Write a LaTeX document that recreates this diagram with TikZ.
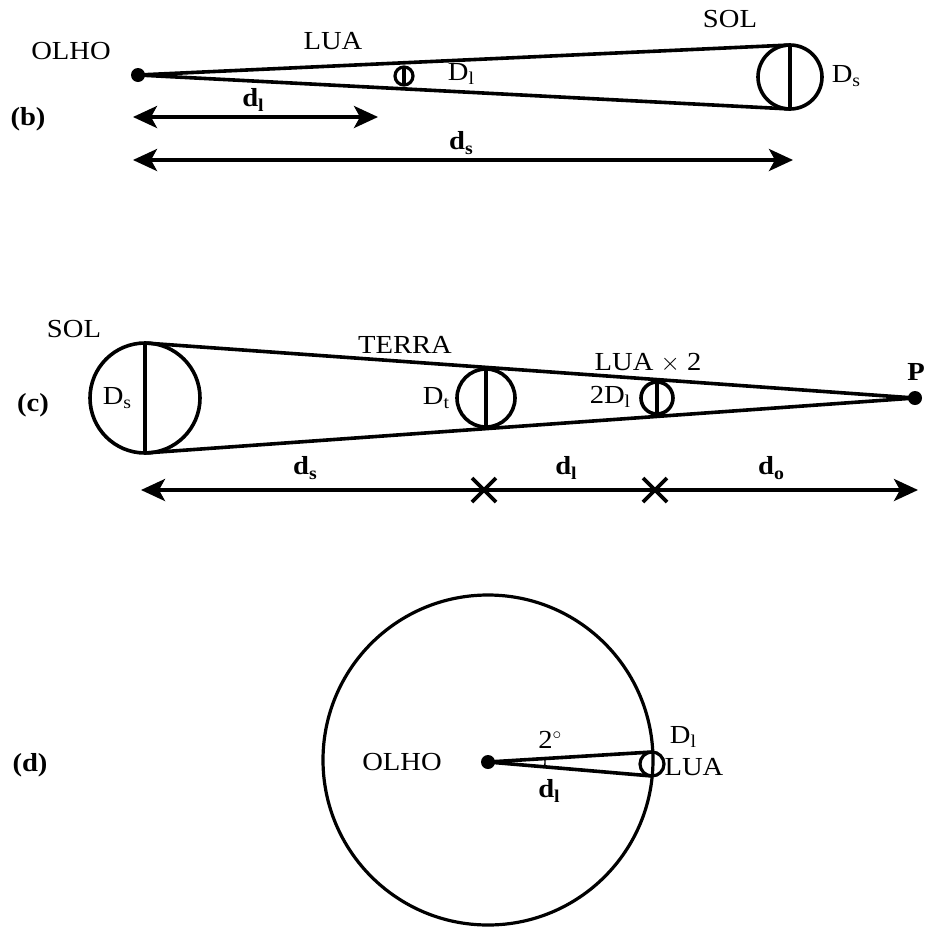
\documentclass[tikz,border=0pt]{standalone}
\usepackage{fontspec}
\setmainfont{Liberation Serif}[FakeStretch=1.1]
\usetikzlibrary{arrows.meta,calc}
\newcommand{\mysub}[1]{\raisebox{-0.35ex}{\fontsize{18}{18}\selectfont #1}}
\begin{document}
\begin{tikzpicture}[x=1pt,y=-1pt,
  line width=3.6pt,
  lbl/.style={inner sep=0pt,font=\fontsize{26}{30}\selectfont},
  blbl/.style={inner sep=0pt,font=\fontsize{26}{30}\selectfont\bfseries},
  body/.style={circle,draw,line width=3.6pt,inner sep=0pt,outer sep=0pt},
  eye/.style={circle,fill,inner sep=0pt,minimum size=14pt},
  dim/.style={{Stealth[length=24pt,width=22pt,inset=6pt]}-{Stealth[length=24pt,width=22pt,inset=6pt]}},
  xmark/.style={line width=3.6pt}
]
\useasboundingbox (0,0) rectangle (926,927);

% ---------------- (b)
\node[lbl] (olhob) at (71,51) {OLHO};
\node[blbl] (lb) at (28,119) {(b)};
\node[lbl] (luab) at (333,41) {LUA};
\node[lbl] (solb) at (730,19) {SOL};
\node[eye] (eyeb) at (138,75) {};
\node[body,minimum size=64pt] (sunb) at (790,77) {};
\node[body,minimum size=18pt,line width=3.2pt] (moonb) at (404,76) {};
\draw (sunb.north) -- (sunb.south);
\draw[line width=3.2pt] (moonb.north) -- (moonb.south);
\draw (eyeb.center) -- (sunb.north);
\draw (eyeb.center) -- (sunb.south);
\node[lbl] (Dlb) at (461,74) {D\mysub{l}};
\node[lbl] (Dsb) at (846,76) {D\mysub{s}};
\coordinate (dlb1) at (133,117);
\coordinate (dlb2) at (378,117);
\coordinate (dsb1) at (133,160);
\coordinate (dsb2) at (793,160);
\draw[dim] (dlb1) -- (dlb2);
\draw[dim] (dsb1) -- (dsb2);
\node[blbl] (dlblab) at (253,100) {d\mysub{l}};
\node[blbl] (dsblab) at (461,143) {d\mysub{s}};

% ---------------- (c)
\node[lbl] (solc) at (74,329) {SOL};
\node[blbl] (lc) at (33,405) {(c)};
\node[body,minimum size=110pt] (sunc) at (145,398) {};
\draw (sunc.north) -- (sunc.south);
\node[lbl] (Dsc) at (117,398) {D\mysub{s}};
\node[eye] (P) at (915,398) {};
\node[blbl] (Plab) at (916,372) {P};
\draw (sunc.north) -- (P.center);
\draw (sunc.south) -- (P.center);
\node[body,minimum size=58pt] (earth) at (486,398) {};
\draw (earth.north) -- (earth.south);
\node[lbl] (Dt) at (436,398) {D\mysub{t}};
\node[lbl] (terra) at (405,345) {TERRA};
\node[body,minimum size=32pt] (moonc) at (657,398) {};
\draw (moonc.north) -- (moonc.south);
\node[lbl] (lua2) at (648,363) {LUA $\times$ 2};
\node[lbl] (twoDl) at (610,397) {2D\mysub{l}};
\coordinate (ar1) at (141,490);
\coordinate (ar2) at (918,490);
\draw[dim] (ar1) -- (ar2);
\coordinate (x1) at (484,490);
\coordinate (x2) at (655,490);
\draw[xmark] ($(x1)+(-12,-12)$) -- ($(x1)+(12,12)$);
\draw[xmark] ($(x1)+(-12,12)$) -- ($(x1)+(12,-12)$);
\draw[xmark] ($(x2)+(-12,-12)$) -- ($(x2)+(12,12)$);
\draw[xmark] ($(x2)+(-12,12)$) -- ($(x2)+(12,-12)$);
\node[blbl] (dsc) at (305,468) {d\mysub{s}};
\node[blbl] (dlc) at (566,468) {d\mysub{l}};
\node[blbl] (doc) at (771,468) {d\mysub{o}};

% ---------------- (d)
\node[blbl] (ld) at (30,765) {(d)};
\node[body,minimum size=330pt,line width=3.2pt] (big) at (488,760) {};
\node[eye] (eyed) at (488,762) {};
\node[lbl] (olhod) at (402,762) {OLHO};
\node[body,minimum size=24pt,line width=3.2pt] (moond) at (652,764) {};
\draw (eyed.center) -- (moond.north);
\draw (eyed.center) -- (moond.south);
\draw[line width=1.4pt] (eyed.center) ++(-4:57) arc[start angle=-4,end angle=4,radius=57];
\node[lbl] (deg) at (550,740) {2$^{\circ}$};
\node[blbl] (dld) at (549,791) {d\mysub{l}};
\node[lbl] (Dld) at (683,737) {D\mysub{l}};
\node[lbl] (luad) at (694,767) {LUA};
\end{tikzpicture}
\end{document}
